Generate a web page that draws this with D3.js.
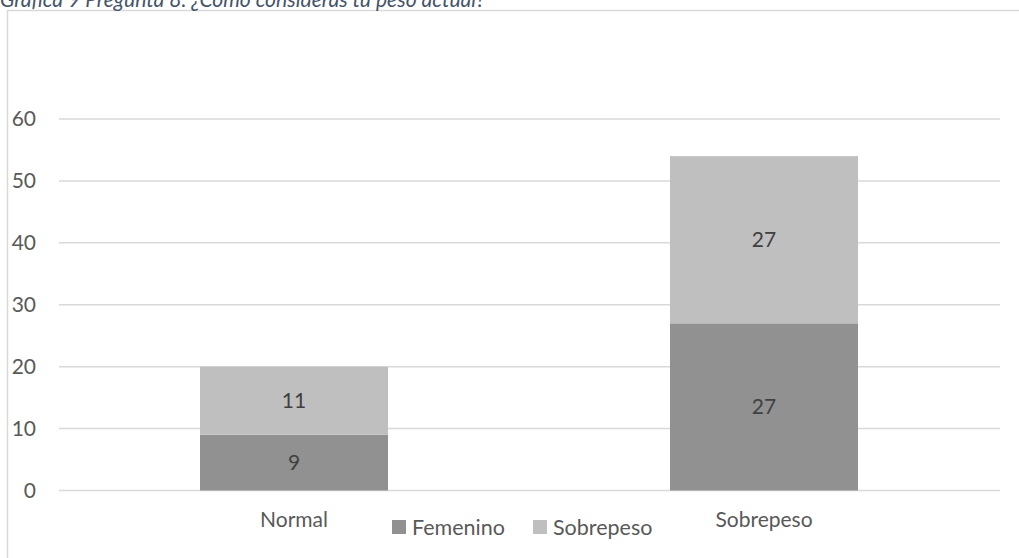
<!DOCTYPE html>
<html><head><meta charset="utf-8">
<script src="https://cdn.jsdelivr.net/npm/d3@7"></script>
<style>body{margin:0;background:#fff;}svg{display:block;}</style>
</head><body>
<script>
const title = "Gráfica 9 Pregunta 8. ¿Cómo consideras tu peso actual?";
const categories = ["Normal", "Sobrepeso"];
const seriesNames = ["Femenino", "Sobrepeso"];
const femenino = [9, 27];
const sobrepeso = [11, 27];
const yTicks = [0, 10, 20, 30, 40, 50, 60];
const colors = ["#919191", "#bfbfbf"];

const W = 1019, H = 558;
const svg = d3.select("body").append("svg").attr("width", W).attr("height", H);
const font = "Lato, 'Open Sans', sans-serif";

// chart border
svg.append("rect").attr("x", 7.5).attr("y", 10.5).attr("width", 1030).attr("height", 600)
  .attr("fill", "#fff").attr("stroke", "#d9d9d9").attr("stroke-width", 1.5);

// title (clipped at top, as in the reference)
svg.append("text").attr("x", 0).attr("y", 6.5).text(title)
  .attr("font-family", font).attr("font-style", "italic").attr("font-size", 21.1)
  .attr("fill", "#44546a");

const x = d3.scaleBand().domain(categories).range([59, 999]).paddingInner(0.6).paddingOuter(0.3);
const y = d3.scaleLinear().domain([0, 60]).range([490.5, 119]);

// gridlines
svg.append("g").selectAll("line").data(yTicks).join("line")
  .attr("x1", 59).attr("x2", 1000).attr("y1", d => y(d)).attr("y2", d => y(d))
  .attr("stroke", "#d9d9d9").attr("stroke-width", 1.5);

// y axis labels
const yAxis = svg.append("g").attr("transform", "translate(36,0)")
  .call(d3.axisLeft(y).tickValues(yTicks).tickSize(0).tickPadding(0));
yAxis.select(".domain").remove();
yAxis.selectAll("text").attr("font-family", font).attr("font-size", 21).attr("fill", "#595959");

// stack
const rows = categories.map((c, i) => ({cat: c, Femenino: femenino[i], Sobrepeso: sobrepeso[i]}));
const stack = d3.stack().keys(seriesNames)(rows);

const g = svg.append("g");
stack.forEach((s, si) => {
  g.append("g").selectAll("rect").data(s).join("rect")
    .attr("x", d => x(d.data.cat)).attr("width", x.bandwidth())
    .attr("y", d => y(d[1])).attr("height", d => y(d[0]) - y(d[1]))
    .attr("fill", colors[si]);
  g.append("g").selectAll("text").data(s).join("text")
    .attr("x", d => x(d.data.cat) + x.bandwidth() / 2)
    .attr("y", d => (y(d[0]) + y(d[1])) / 2)
    .attr("dy", "0.35em").attr("text-anchor", "middle")
    .attr("font-family", font).attr("font-size", 21).attr("fill", "#404040")
    .text(d => d[1] - d[0]);
});

// x axis labels
const xAxis = svg.append("g").attr("transform", "translate(0,512)")
  .call(d3.axisBottom(x).tickSize(0).tickPadding(0));
xAxis.select(".domain").remove();
xAxis.selectAll("text").attr("font-family", font).attr("font-size", 21).attr("fill", "#595959");

// legend
const legendX = [392, 533];
const lg = svg.append("g");
seriesNames.forEach((n, i) => {
  lg.append("rect").attr("x", legendX[i]).attr("y", 520).attr("width", 14).attr("height", 14).attr("fill", colors[i]);
  lg.append("text").attr("x", legendX[i] + 20).attr("y", 527).attr("dy", "0.35em")
    .attr("font-family", font).attr("font-size", 21.5).attr("fill", "#595959").text(n);
});
</script>
</body></html>
